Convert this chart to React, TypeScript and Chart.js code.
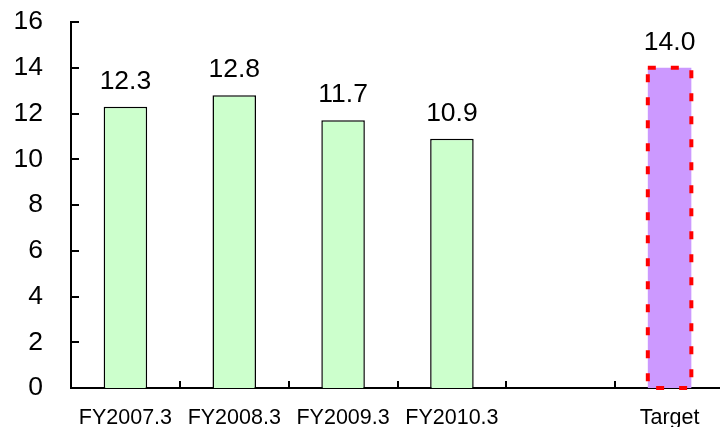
import React, { useEffect, useRef } from "react";
import { Chart, registerables } from "chart.js";

Chart.register(...registerables);

// Fiscal years plus a spacer slot and the target column
const categories = ["FY2007.3", "FY2008.3", "FY2009.3", "FY2010.3", "", "Target"];
const values: (number | null)[] = [12.3, 12.8, 11.7, 10.9, null, 14.0];
const barFills = ["#CCFFCC", "#CCFFCC", "#CCFFCC", "#CCFFCC", "#CCFFCC", "#CC99FF"];
const dashedBars = [false, false, false, false, false, true];

const yMin = 0;
const yMax = 16;
const yStep = 2;

const FONT = "'Liberation Sans', Arial, sans-serif";

// Value labels above each bar
const valueLabels = {
  id: "valueLabels",
  afterDatasetsDraw(chart: any) {
    const ctx = chart.ctx;
    const meta = chart.getDatasetMeta(0);
    ctx.save();
    ctx.font = `26.5px ${FONT}`;
    ctx.fillStyle = "#000";
    ctx.textAlign = "center";
    ctx.textBaseline = "alphabetic";
    meta.data.forEach((bar: any, i: number) => {
      const v = values[i];
      if (v == null) return;
      ctx.fillText(v.toFixed(1), bar.x, bar.y - 18);
    });
    ctx.restore();
  },
};

// Red dashed outline around the target bar
const dashedOutline = {
  id: "dashedOutline",
  afterDatasetsDraw(chart: any) {
    const ctx = chart.ctx;
    const meta = chart.getDatasetMeta(0);
    ctx.save();
    ctx.strokeStyle = "#FF0000";
    ctx.lineWidth = 4;
    ctx.setLineDash([8, 15]);
    meta.data.forEach((bar: any, i: number) => {
      if (!dashedBars[i] || values[i] == null) return;
      const half = bar.width / 2;
      ctx.beginPath();
      ctx.moveTo(bar.x - half, bar.y);
      ctx.lineTo(bar.x + half, bar.y);
      ctx.lineTo(bar.x + half, bar.base);
      ctx.lineTo(bar.x - half, bar.base);
      ctx.closePath();
      ctx.stroke();
    });
    ctx.restore();
  },
};

// Tick marks pointing into the plot area
const innerTicks = {
  id: "innerTicks",
  afterDraw(chart: any) {
    const ctx = chart.ctx;
    const { left, bottom } = chart.chartArea;
    const xs = chart.scales.x;
    const ys = chart.scales.y;
    ctx.save();
    ctx.strokeStyle = "#000";
    ctx.lineWidth = 2;
    ctx.beginPath();
    ys.ticks.forEach((t: any) => {
      const y = Math.round(ys.getPixelForValue(t.value));
      ctx.moveTo(left, y);
      ctx.lineTo(left + 8, y);
    });
    for (let i = 0; i < categories.length; i++) {
      const x = Math.round((xs.getPixelForValue(i) + xs.getPixelForValue(i + 1)) / 2);
      ctx.moveTo(x, bottom);
      ctx.lineTo(x, bottom - 7);
    }
    ctx.stroke();
    ctx.restore();
  },
};

export default function App() {
  const canvasRef = useRef<HTMLCanvasElement | null>(null);

  useEffect(() => {
    const canvas = canvasRef.current;
    if (!canvas) return;
    const chart = new Chart(canvas, {
      type: "bar",
      data: {
        labels: categories,
        datasets: [
          {
            data: values,
            backgroundColor: barFills,
            borderColor: dashedBars.map((d) => (d ? "rgba(0,0,0,0)" : "#000")),
            borderWidth: dashedBars.map((d) => (d ? 0 : 1.5)),
            barPercentage: 0.4,
            categoryPercentage: 1,
          },
        ],
      },
      options: {
        animation: false,
        responsive: false,
        devicePixelRatio: 1,
        layout: { padding: { top: 22, right: 4, left: 0, bottom: 0 } },
        plugins: {
          legend: { display: false },
          tooltip: { enabled: false },
          title: { display: false },
        },
        scales: {
          x: {
            grid: { display: false, drawTicks: false },
            border: { display: true, color: "#000", width: 2 },
            ticks: {
              color: "#000",
              padding: 17,
              maxRotation: 0,
              autoSkip: false,
              font: { family: FONT, size: 21.5 },
            },
            afterFit(scale: any) {
              scale.height = 39;
              scale.paddingLeft = 0;
              scale.paddingRight = 0;
            },
          },
          y: {
            min: yMin,
            max: yMax,
            grid: { display: false, drawTicks: false },
            border: { display: true, color: "#000", width: 2 },
            ticks: {
              stepSize: yStep,
              color: "#000",
              padding: 28,
              font: { family: FONT, size: 26.5 },
            },
            afterFit(scale: any) {
              scale.width = 71;
              scale.paddingTop = 0;
              scale.paddingBottom = 0;
            },
          },
        },
      },
      plugins: [innerTicks, dashedOutline, valueLabels],
    });
    return () => chart.destroy();
  }, []);

  return (
    <div
      style={{
        position: "absolute",
        left: 0,
        top: 0,
        width: 720,
        height: 427,
        overflow: "hidden",
        background: "#fff",
      }}
    >
      <canvas ref={canvasRef} width={728} height={427} style={{ display: "block" }} />
    </div>
  );
}
